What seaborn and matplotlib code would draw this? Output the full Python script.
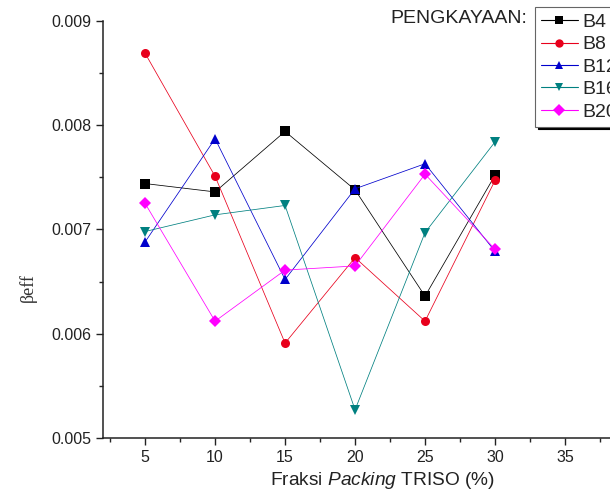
import pandas as pd
import matplotlib
matplotlib.use('Agg')
import matplotlib.pyplot as plt
import seaborn as sns

sns.set_theme(style='ticks')
plt.rcParams['font.family'] = ['Liberation Sans', 'DejaVu Sans']
plt.rcParams['mathtext.fontset'] = 'custom'
plt.rcParams['mathtext.rm'] = 'Liberation Sans'
plt.rcParams['mathtext.it'] = 'Liberation Sans:italic'

fraksi = [5, 10, 15, 20, 25, 30]
series = ['B4', 'B8', 'B12', 'B16', 'B20']
b4 = [0.00744, 0.00736, 0.00794, 0.00738, 0.00636, 0.00752]
b8 = [0.00869, 0.00751, 0.00591, 0.00673, 0.00612, 0.00747]
b12 = [0.00688, 0.00787, 0.00652, 0.00739, 0.00763, 0.00679]
b16 = [0.00698, 0.00714, 0.00723, 0.00527, 0.00697, 0.00784]
b20 = [0.00725, 0.00612, 0.00661, 0.00665, 0.00753, 0.00681]
x_ticks = [5, 10, 15, 20, 25, 30, 35]
y_ticks = [0.005, 0.006, 0.007, 0.008, 0.009]

colors = ['#000000', '#e8001c', '#0000cc', '#008080', '#ff00ff']
markers = ['s', 'o', '^', 'v', 'D']

runs = pd.DataFrame({
    'Fraksi': fraksi * 5,
    'beff': b4 + b8 + b12 + b16 + b20,
    'Pengkayaan': [s for s in series for _ in fraksi],
})

fig = plt.figure(figsize=(6.1, 4.93), dpi=100)
ax = fig.add_axes([0.169, 0.1116, 0.872, 0.846])
sns.lineplot(
    data=runs, x='Fraksi', y='beff',
    hue='Pengkayaan', style='Pengkayaan',
    palette=colors, markers=markers, dashes=False,
    markersize=6.5, markeredgewidth=0, linewidth=0.55,
    ax=ax,
)

ax.set(xlim=(2, 40), ylim=(0.005, 0.009))
ax.set_xticks(x_ticks)
ax.set_xticks([2.5 + 5 * i for i in range(8)], minor=True)
ax.set_yticks(y_ticks)
ax.set_yticks([0.0055, 0.0065, 0.0075, 0.0085], minor=True)
ax.set_yticklabels([f'{v:.3f}' for v in y_ticks])
ax.tick_params(which='major', length=5, width=1, labelsize=11.5, colors='#222222')
ax.tick_params(which='minor', length=3, width=1)
for s in ['top', 'right']:
    ax.spines[s].set_visible(False)
for s in ['left', 'bottom']:
    ax.spines[s].set_color('#222222')
    ax.spines[s].set_linewidth(1.1)

ax.set_xlabel('Fraksi $\\mathit{Packing}$ TRISO (%)', fontsize=13.8, color='#222222')
ax.xaxis.set_label_coords(0.526, -0.077)
ax.set_ylabel('βeff', fontsize=13, family='Liberation Serif', color='#333333')
ax.yaxis.set_label_coords(-0.124, 0.36)

handles, labels = ax.get_legend_handles_labels()
for h in handles:
    h.set_linewidth(0.8)
    h.set_markersize(6)
leg = ax.legend(handles, labels, loc='upper left', bbox_to_anchor=(0.877, 0.985),
                bbox_transform=fig.transFigure, fontsize=14, frameon=True,
                fancybox=False, shadow={'color': 'black', 'alpha': 1},
                handlelength=1.9, handletextpad=0.25, labelspacing=0.25,
                borderpad=0.3, borderaxespad=0)
leg.get_frame().set_edgecolor('#666666')
leg.get_frame().set_linewidth(0.8)

fig.text(0.864, 0.963, 'PENGKAYAAN:', ha='right', va='center', fontsize=14, color='#222222')

fig.savefig('out.png', dpi=100)
